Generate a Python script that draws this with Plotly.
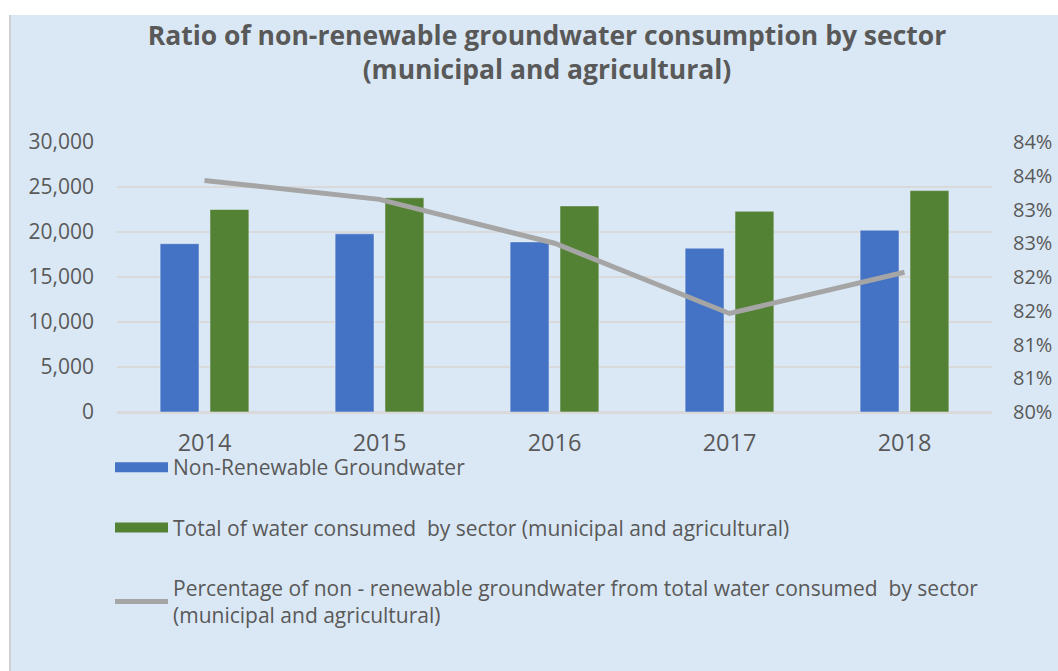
import plotly.graph_objects as go

# ---- data ----
years = ["2014", "2015", "2016", "2017", "2018"]
non_renewable = [18700, 19800, 18900, 18200, 20200]
total_consumed = [22500, 23800, 22900, 22300, 24600]
percentage = [83.43, 83.15, 82.50, 81.46, 82.07]

left_tick_vals = [0, 5000, 10000, 15000, 20000, 25000, 30000]
right_tick_vals = [80, 80.5, 81, 81.5, 82, 82.5, 83, 83.5, 84]
right_tick_labels = ["80%", "81%", "81%", "82%", "82%", "83%", "83%", "84%", "84%"]

name_nr = "Non-Renewable Groundwater"
name_total = "Total of water consumed  by sector (municipal and agricultural)"
name_pct = ("Percentage of non - renewable groundwater from total water consumed  by sector"
            "<br>(municipal and agricultural)")
title_text = ("<b>Ratio of non-renewable groundwater consumption by sector<br>"
              "(municipal and agricultural)</b>")

# ---- style ----
W, H = 1058, 671
ML, MR, MT, MB = 117, 66, 142, 259
PW, PH = W - ML - MR, H - MT - MB
BLUE, GREEN, GRAY = "#4472C4", "#548235", "#A5A5A5"
TXT = "#595959"
BG = "#DAE8F5"
FONT = "Open Sans"


def px_x(p):
    return (p - ML) / PW


def px_y(p):
    return (H - MB - p) / PH


fig = go.Figure()
fig.add_trace(go.Bar(x=years, y=non_renewable, name=name_nr, marker_color=BLUE,
                     showlegend=False, yaxis="y"))
fig.add_trace(go.Bar(x=years, y=total_consumed, name=name_total, marker_color=GREEN,
                     showlegend=False, yaxis="y"))
# legend proxies (wide swatches like the original)
fig.add_trace(go.Scatter(x=[None], y=[None], mode="lines", name=name_nr,
                         line=dict(color=BLUE, width=13), legendgroup="a"))
fig.add_trace(go.Scatter(x=[None], y=[None], mode="lines", name=name_total,
                         line=dict(color=GREEN, width=13), legendgroup="b"))
fig.add_trace(go.Scatter(x=years, y=percentage, mode="lines", name=name_pct,
                         line=dict(color=GRAY, width=5), yaxis="y2", legendgroup="c"))

fig.update_layout(
    width=W, height=H,
    margin=dict(l=ML, r=MR, t=MT, b=MB, autoexpand=False),
    paper_bgcolor="white", plot_bgcolor="rgba(0,0,0,0)",
    font=dict(family=FONT, color=TXT),
    barmode="group", bargap=0.43, bargroupgap=0.22,
    title=dict(text=title_text, x=0.517, xanchor="center", y=1 - 45 / H, yanchor="top",
               font=dict(family=FONT, size=26.5, color=TXT)),
    xaxis=dict(type="category", showgrid=False, showline=True, linecolor="#D9D9D9",
               linewidth=1.5, ticks="", tickfont=dict(size=23.5, color=TXT),
               ticklabelstandoff=9),
    yaxis=dict(range=[0, 30000], tickvals=left_tick_vals, tickformat=",d",
               showgrid=True, gridcolor="#D9D9D9", gridwidth=1.5,
               zeroline=True, zerolinecolor="#D9D9D9", zerolinewidth=1.5,
               ticks="", tickfont=dict(size=21, color=TXT), ticklabelstandoff=22),
    yaxis2=dict(range=[80, 84], tickvals=right_tick_vals, ticktext=right_tick_labels,
                overlaying="y", side="right", showgrid=False, zeroline=False,
                ticks="", tickfont=dict(size=20, color=TXT), ticklabelstandoff=20),
    legend=dict(orientation="v", x=px_x(110), xanchor="left", y=px_y(447), yanchor="top",
                font=dict(family=FONT, size=21, color=TXT), itemwidth=53,
                tracegroupgap=30, bgcolor="rgba(0,0,0,0)", traceorder="grouped"),
    shapes=[
        dict(type="rect", xref="paper", yref="paper", layer="below",
             x0=px_x(10), x1=px_x(W + 5), y0=px_y(H + 5), y1=px_y(15),
             fillcolor=BG, line=dict(width=0)),
        dict(type="line", xref="paper", yref="paper", layer="below",
             x0=px_x(10), x1=px_x(10), y0=px_y(H), y1=px_y(15),
             line=dict(color="#CFCFCF", width=2)),
    ],
)

fig.write_html("out.html",
               config={"displayModeBar": False},
               post_script="document.body.style.margin='0';"
                           "document.body.style.overflow='hidden';")
